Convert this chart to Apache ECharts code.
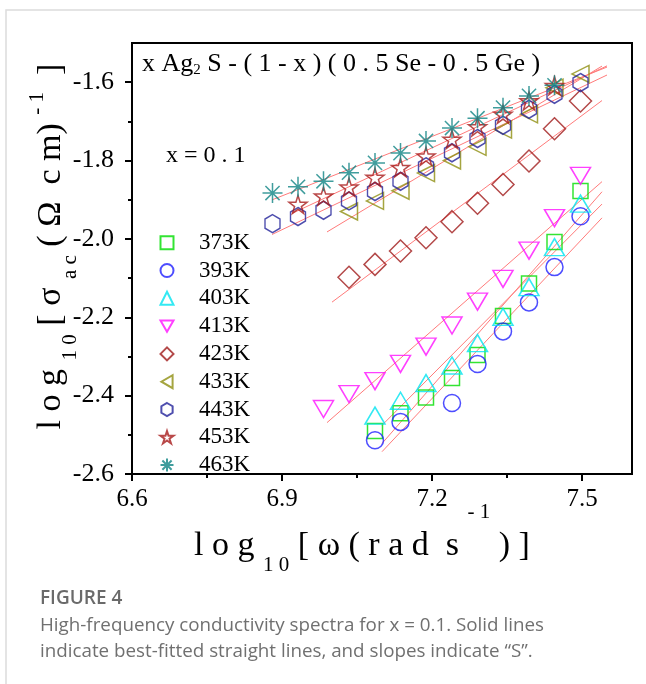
<!DOCTYPE html>
<html>
<head>
<meta charset="utf-8">
<script src="https://cdn.jsdelivr.net/npm/echarts@6/dist/echarts.min.js"></script>
<style>
  html, body { margin: 0; padding: 0; background: #fff; }
  #chart { width: 646px; height: 684px; }
</style>
</head>
<body>
<div id="chart"></div>
<script>
// log10(omega) grid shared by all temperatures
const logW = [6.881, 6.932, 6.983, 7.034, 7.086, 7.137, 7.188, 7.240, 7.291, 7.342, 7.394, 7.445, 7.497];
const temps = ['373K', '393K', '403K', '413K', '423K', '433K', '443K', '453K', '463K'];

// log10(sigma_ac), null = no point
const s373 = [null, null, null, null, -2.490, -2.445, -2.405, -2.355, -2.296, -2.197, -2.114, -2.008, -1.878];
const s393 = [null, null, null, null, -2.514, -2.467, null, -2.419, -2.319, -2.236, -2.162, -2.072, -1.942];
const s403 = [null, null, null, null, -2.451, -2.413, -2.368, -2.323, -2.266, -2.199, -2.123, -2.021, -1.910];
const s413 = [null, null, -2.434, -2.396, -2.363, -2.319, -2.275, -2.221, -2.160, -2.102, -2.030, -1.947, -1.839];
const s423 = [null, null, null, -2.098, -2.065, -2.031, -1.997, -1.956, -1.909, -1.861, -1.801, -1.719, -1.648];
const s433 = [null, null, null, -1.930, -1.903, -1.877, -1.832, -1.800, -1.765, -1.721, -1.682, -1.614, -1.579];
const s443 = [-1.961, -1.943, -1.927, -1.903, -1.879, -1.853, -1.816, -1.780, -1.744, -1.710, -1.669, -1.631, -1.601];
const s453 = [null, -1.912, -1.891, -1.868, -1.843, -1.818, -1.789, -1.746, -1.714, -1.682, -1.648, -1.609, null];
const s463 = [-1.883, -1.867, -1.853, -1.831, -1.806, -1.781, -1.750, -1.717, -1.692, -1.665, -1.635, -1.608, null];
const allSeries = [s373, s393, s403, s413, s423, s433, s443, s453, s463];

// x range of each fitted straight line
const fitStart = [7.10, 7.10, 7.10, 6.99, 7.00, 6.99, 6.88, 6.92, 6.88];
const fitEnd = [7.54, 7.54, 7.54, 7.54, 7.54, 7.54, 7.55, 7.55, 7.55];

const xTicks = [6.6, 6.9, 7.2, 7.5];
const xMinorTicks = [6.75, 7.05, 7.35];
const yTicks = [-2.6, -2.4, -2.2, -2.0, -1.8, -1.6];
const yMinorTicks = [-2.5, -2.3, -2.1, -1.9, -1.7];

const downTri = 'path://M0,0 L100,0 L50,86 Z';
const leftTri = 'path://M86,0 L86,100 L0,50 Z';
const hexPath = 'path://M50,0 L93.3,25 L93.3,75 L50,100 L6.7,75 L6.7,25 Z';
const starPath = 'path://M50,0 L61.2,34.6 L97.6,34.5 L68.1,55.9 L79.4,90.5 L50,69 L20.6,90.5 L31.9,55.9 L2.4,34.5 L38.8,34.6 Z';
const astPath = 'path://M50,0 L50,100 M0,50 L100,50 M14.6,14.6 L85.4,85.4 M85.4,14.6 L14.6,85.4';

const markers = [
  { symbol: 'rect', size: [15, 15], color: '#00dd00' },
  { symbol: 'circle', size: 17, color: '#2020ff' },
  { symbol: 'triangle', size: [20, 17], color: '#00e4f0' },
  { symbol: downTri, size: [20, 17], color: '#ff10ff' },
  { symbol: 'diamond', size: [22, 22], color: '#a01c1c' },
  { symbol: leftTri, size: [17, 17], color: '#8e8e10' },
  { symbol: hexPath, size: [15, 18], color: '#22229a' },
  { symbol: starPath, size: [18, 18], color: '#a81c1c' },
  { symbol: astPath, size: [20, 20], color: '#108585' }
];

function fitLine(ys) {
  let n = 0, sx = 0, sy = 0, sxx = 0, sxy = 0;
  ys.forEach((y, i) => {
    if (y === null) return;
    const x = logW[i];
    n++; sx += x; sy += y; sxx += x * x; sxy += x * y;
  });
  const slope = (n * sxy - sx * sy) / (n * sxx - sx * sx);
  const icpt = (sy - slope * sx) / n;
  return { slope, icpt };
}

const serif = 'Liberation Serif';
const series = [];

allSeries.forEach((ys, i) => {
  const f = fitLine(ys);
  series.push({
    name: temps[i] + ' fit',
    type: 'line',
    silent: true,
    symbol: 'none',
    z: 1,
    lineStyle: { color: '#ff7b7b', width: 1 },
    data: [fitStart[i], fitEnd[i]].map(x => [x, f.icpt + f.slope * x])
  });
});

allSeries.forEach((ys, i) => {
  const m = markers[i];
  series.push({
    name: temps[i],
    type: 'scatter',
    silent: true,
    z: 3,
    symbol: m.symbol,
    symbolSize: m.size,
    itemStyle: { color: 'rgba(0,0,0,0)', borderColor: m.color, borderWidth: 1.5 },
    data: ys.map((y, k) => [logW[k], y]).filter(p => p[1] !== null)
  });
});

function nameRich(supPad) {
  return {
    n: { fontFamily: serif, fontSize: 34, lineHeight: 97, color: '#000' },
    s: { fontFamily: serif, fontSize: 21, lineHeight: 21, verticalAlign: 'bottom', padding: [0, 0, 19, 0], color: '#000' },
    p: { fontFamily: serif, fontSize: 21, lineHeight: 21, verticalAlign: 'top', padding: [supPad, 0, 0, 0], color: '#000' }
  };
}

const axisLine = { show: true, onZero: false, lineStyle: { color: '#000', width: 2 } };

const chart = echarts.init(document.getElementById('chart'));
chart.setOption({
  animation: false,
  backgroundColor: '#fff',
  grid: {
    left: 132, right: 14, top: 43, bottom: 210,
    show: true, borderColor: '#000', borderWidth: 2,
    outerBoundsMode: 'none'
  },
  legend: {
    data: temps,
    orient: 'vertical',
    left: 159.5, top: 230.7,
    padding: 0,
    itemWidth: 13, itemHeight: 13, itemGap: 3.8,
    selectedMode: false,
    textStyle: { fontFamily: serif, fontSize: 23, lineHeight: 24, color: '#000', padding: [0, 0, 0, 20.5] }
  },
  xAxis: [{
    type: 'value', min: 6.6, max: 7.6, position: 'bottom',
    axisLine: axisLine, splitLine: { show: false },
    axisTick: { show: true, length: 7, lineStyle: { color: '#000', width: 2 }, customValues: xTicks },
    axisLabel: { customValues: xTicks, margin: 13, fontFamily: serif, fontSize: 25, color: '#000', formatter: v => v.toFixed(1) },
    name: '{n|l o g }{s|1 0}{n| [ ω ( r a d  s }{p|- 1}{n| ) ]}',
    nameLocation: 'middle', nameGap: 24, nameMoveOverlap: false,
    nameTextStyle: { fontFamily: serif, fontSize: 34, color: '#000', rich: nameRich(4), padding: [0, 40, 0, 0] }
  }, {
    type: 'value', min: 6.6, max: 7.6, position: 'bottom',
    axisLine: { show: false }, splitLine: { show: false },
    axisTick: { show: true, length: 4, lineStyle: { color: '#000', width: 2 }, customValues: xMinorTicks },
    axisLabel: { show: false }
  }],
  yAxis: [{
    type: 'value', min: -2.6, max: -1.5, position: 'left',
    axisLine: axisLine, splitLine: { show: false },
    axisTick: { show: true, length: 7, lineStyle: { color: '#000', width: 2 }, customValues: yTicks },
    axisLabel: { customValues: yTicks, margin: 18, fontFamily: serif, fontSize: 26, color: '#000', formatter: v => v.toFixed(1) },
    name: '{n|l o g }{s|1 0}{n| [ σ }{s|a c}{n| ( Ω  c m) }{p|- 1}{n|  ]}',
    nameLocation: 'middle', nameRotate: 90, nameGap: 32, nameMoveOverlap: false,
    nameTextStyle: { fontFamily: serif, fontSize: 34, color: '#000', rich: nameRich(24), padding: [0, 0, 0, 24] }
  }, {
    type: 'value', min: -2.6, max: -1.5, position: 'left',
    axisLine: { show: false }, splitLine: { show: false },
    axisTick: { show: true, length: 4, lineStyle: { color: '#000', width: 2 }, customValues: yMinorTicks },
    axisLabel: { show: false }
  }],
  graphic: [
    {
      type: 'rect', silent: true, z: -10,
      shape: { x: 6, y: 10, width: 700, height: 700 },
      style: { fill: 'none', stroke: '#dcdcdc', lineWidth: 1.5 }
    },
    {
      type: 'text', silent: true, x: 142, y: 50,
      style: {
        text: '{a|x Ag}{b|2}{a| S - ( 1 - x ) ( 0 . 5 Se - 0 . 5 Ge )}',
        verticalAlign: 'top',
        rich: {
          a: { fontFamily: serif, fontSize: 26, lineHeight: 28, fill: '#000' },
          b: { fontFamily: serif, fontSize: 15, lineHeight: 15, verticalAlign: 'bottom', fill: '#000' }
        }
      }
    },
    {
      type: 'text', silent: true, x: 166, y: 156,
      style: { text: 'x = 0 . 1', fontFamily: serif, fontSize: 24, fill: '#000', verticalAlign: 'middle' }
    },
    {
      type: 'text', silent: true, x: 40, y: 599,
      style: { text: 'FIGURE 4', fontFamily: 'Open Sans', fontWeight: 600, fontSize: 19, fill: '#6a6a6a', verticalAlign: 'middle' }
    },
    {
      type: 'text', silent: true, x: 40, y: 626,
      style: { text: 'High-frequency conductivity spectra for x = 0.1. Solid lines', fontFamily: 'Open Sans', fontSize: 18.8, fill: '#707070', verticalAlign: 'middle' }
    },
    {
      type: 'text', silent: true, x: 40, y: 652,
      style: { text: 'indicate best-fitted straight lines, and slopes indicate \u201cS\u201d.', fontFamily: 'Open Sans', fontSize: 18.8, fill: '#707070', verticalAlign: 'middle' }
    }
  ],
  series: series
});
</script>
</body>
</html>
